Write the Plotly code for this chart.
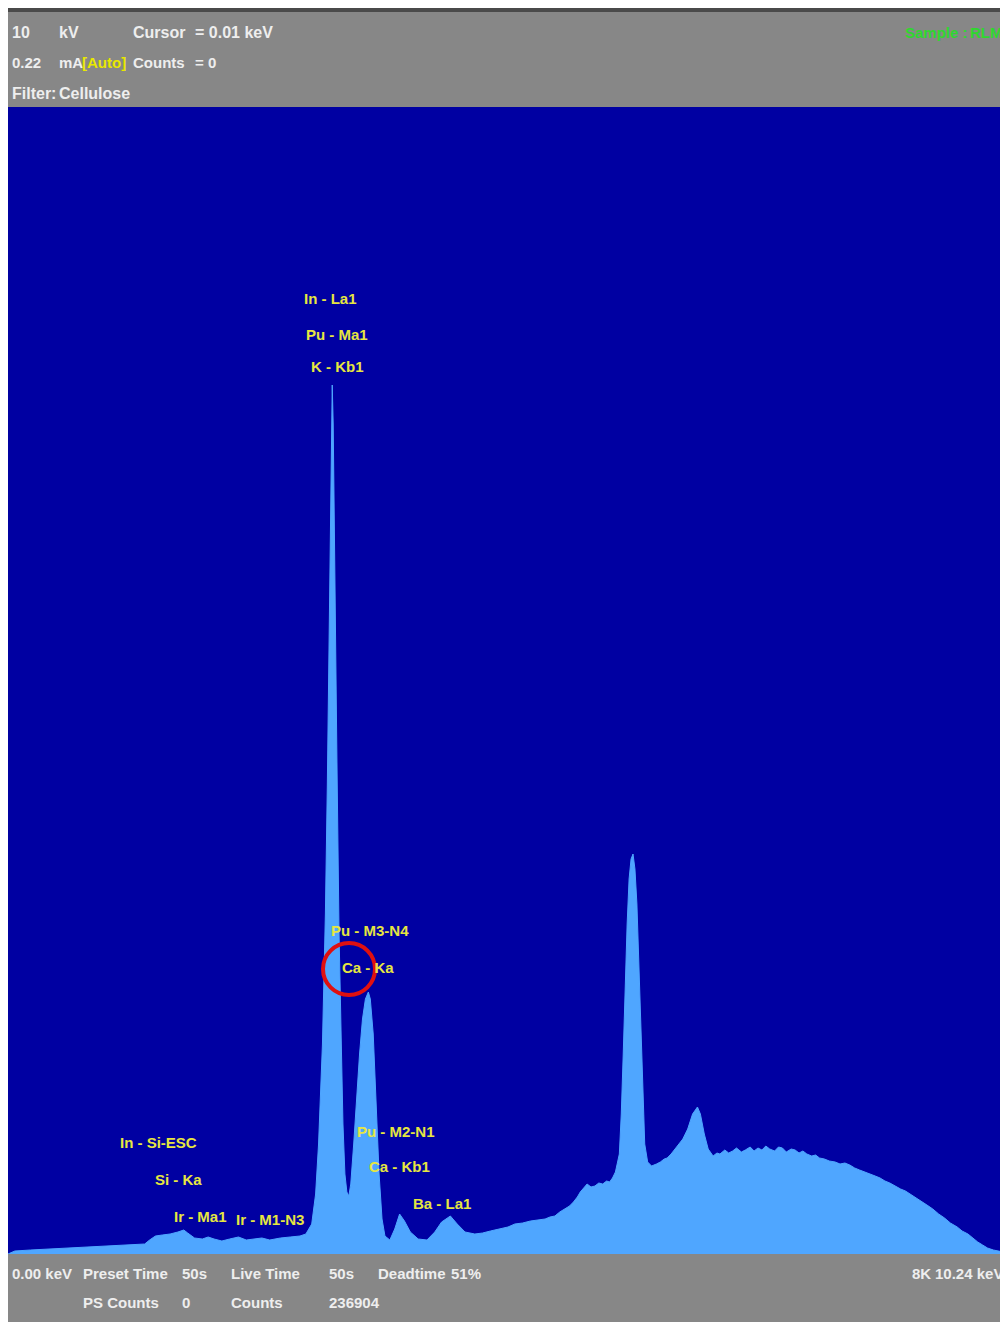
import plotly.graph_objects as go

# ---------------- data ----------------
energy_kev = [
    0.00, 0.07, 0.23, 0.43, 0.63, 0.84, 1.04, 1.25, 1.40, 1.45, 1.51, 1.58, 1.66, 1.74, 1.80,
    1.84, 1.91, 1.99, 2.05, 2.11, 2.19, 2.27, 2.36, 2.44, 2.53, 2.60, 2.68, 2.79, 2.89, 2.99,
    3.05, 3.11, 3.15, 3.18, 3.22, 3.25, 3.27, 3.29, 3.31, 3.32, 3.33, 3.35, 3.37, 3.39, 3.41,
    3.43, 3.45, 3.47, 3.49, 3.51, 3.54, 3.57, 3.60, 3.63, 3.66, 3.69, 3.71, 3.74, 3.77, 3.80,
    3.83, 3.86, 3.91, 3.96, 4.01, 4.06, 4.12, 4.20, 4.29, 4.37, 4.44, 4.53, 4.60, 4.68, 4.78,
    4.86, 4.94, 5.04, 5.12, 5.19, 5.27, 5.35, 5.43, 5.50, 5.55, 5.60, 5.65, 5.70, 5.75, 5.79,
    5.83, 5.86, 5.90, 5.93, 5.97, 6.01, 6.05, 6.09, 6.13, 6.16, 6.19, 6.22, 6.26, 6.28, 6.30,
    6.32, 6.34, 6.36, 6.38, 6.40, 6.42, 6.44, 6.46, 6.48, 6.50, 6.52, 6.55, 6.59, 6.64, 6.68,
    6.72, 6.75, 6.79, 6.83, 6.87, 6.91, 6.96, 7.01, 7.06, 7.09, 7.13, 7.17, 7.22, 7.26, 7.29,
    7.34, 7.38, 7.42, 7.46, 7.51, 7.55, 7.60, 7.64, 7.68, 7.72, 7.76, 7.80, 7.85, 7.89, 7.93,
    7.97, 8.02, 8.06, 8.10, 8.14, 8.18, 8.23, 8.27, 8.31, 8.36, 8.41, 8.47, 8.52, 8.57, 8.62,
    8.67, 8.72, 8.78, 8.83, 8.88, 8.93, 8.98, 9.03, 9.08, 9.14, 9.19, 9.24, 9.30, 9.36, 9.41,
    9.47, 9.53, 9.59, 9.65, 9.72, 9.77, 9.83, 9.88, 9.93, 9.98, 10.03, 10.09, 10.14, 10.19, 10.24,
]
counts = [
    0, 3, 4, 5, 6, 7, 8, 9, 10, 14, 18, 19, 20, 22, 24,
    21, 16, 15, 17, 15, 13, 15, 17, 14, 15, 16, 14, 16, 17, 18,
    20, 30, 60, 110, 210, 340, 470, 620, 800, 869, 830, 680, 480, 320, 210,
    130, 80, 62, 58, 70, 110, 160, 200, 235, 255, 262, 255, 220, 150, 80,
    35, 18, 14, 25, 40, 33, 22, 15, 14, 22, 32, 38, 30, 22, 20,
    21, 23, 25, 27, 30, 31, 33, 34, 35, 37, 38, 42, 45, 48, 52,
    57, 62, 66, 70, 67, 68, 71, 70, 73, 72, 76, 82, 100, 140, 200,
    270, 330, 375, 395, 400, 385, 350, 290, 220, 150, 110, 92, 88, 90, 92,
    95, 96, 100, 105, 110, 115, 125, 140, 147, 140, 120, 105, 98, 101, 100,
    104, 101, 103, 106, 102, 104, 107, 103, 106, 104, 108, 105, 103, 107, 106,
    102, 105, 104, 101, 103, 100, 98, 99, 96, 95, 93, 92, 90, 91, 89,
    86, 84, 82, 80, 78, 76, 73, 71, 68, 65, 63, 60, 56, 52, 49,
    45, 40, 36, 31, 27, 23, 20, 16, 12, 9, 6, 4, 3, 2, 2,
]

peak_labels = [
    "In - La1", "Pu - Ma1", "K - Kb1",
    "Pu - M3-N4", "Ca - Ka",
    "In - Si-ESC", "Si - Ka", "Ir - Ma1", "Ir - M1-N3",
    "Pu - M2-N1", "Ca - Kb1", "Ba - La1",
]
header_row1 = ["10", "kV", "Cursor", "= 0.01 keV"]
header_row2 = ["0.22", "mA", "[Auto]", "Counts", "= 0"]
header_row3 = ["Filter:", "Cellulose"]
footer_row1 = ["0.00 keV", "Preset Time", "50s", "Live Time", "50s", "Deadtime", "51%"]
footer_row2 = ["PS Counts", "0", "Counts", "236904"]
footer_right = ["8K", "10.24 keV"]
sample_text = ["Sample :", "RLM"]

# ---------------- layout helpers ----------------
# The page body keeps its default 8 px margin; positions below are page pixels.
OFF = 8
W, H = 1000, 1314
PLOT_TOP, PLOT_BOTTOM = 107, 1254
FONT = "Liberation Sans, Arial, sans-serif"
BLUE_BG = "#0000a2"
FILL = "#4fa6ff"
GRAY = "#878787"
TXT = "#eeeeee"
YEL = "#e6e640"


def px(x, y):
    return (x - OFF) / W, 1 - (y - OFF) / H


fig = go.Figure()
fig.add_trace(go.Scatter(
    x=energy_kev, y=counts, mode="lines", fill="tozeroy",
    line=dict(color=FILL, width=1), fillcolor=FILL, hoverinfo="skip",
    showlegend=False,
))

shapes = []
shapes.append(dict(type="rect", xref="paper", yref="paper",
                   x0=0, x1=1, y0=px(0, 12)[1], y1=1,
                   fillcolor="#4a4a4a", line=dict(width=0), layer="above"))
shapes.append(dict(type="rect", xref="paper", yref="paper",
                   x0=0, x1=1, y0=px(0, PLOT_TOP)[1], y1=px(0, 12)[1],
                   fillcolor=GRAY, line=dict(width=0), layer="above"))
shapes.append(dict(type="rect", xref="paper", yref="paper",
                   x0=0, x1=1, y0=0, y1=px(0, PLOT_BOTTOM)[1],
                   fillcolor=GRAY, line=dict(width=0), layer="above"))
cx, cy, r = 349, 969, 26
shapes.append(dict(type="circle", xref="paper", yref="paper",
                   x0=px(cx - r, 0)[0], x1=px(cx + r, 0)[0],
                   y0=px(0, cy + r)[1], y1=px(0, cy - r)[1],
                   line=dict(color="#e01010", width=4), layer="above"))

annotations = []


def add_text(text, x, y, color=TXT, size=15, xanchor="left"):
    ax, ay = px(x, y)
    annotations.append(dict(text=text, x=ax, y=ay, xref="paper", yref="paper",
                            xanchor=xanchor, yanchor="middle", showarrow=False,
                            font=dict(family=FONT, size=size, color=color, weight="bold")))


# header
for t, x in zip(header_row1, [10, 57, 131, 193]):
    add_text(t, x, 32, size=16)
for t, x, c in zip(header_row2, [10, 57, 80, 131, 193],
                   [TXT, TXT, "#e8e800", TXT, TXT]):
    add_text(t, x, 63, color=c, size=15)
for t, x in zip(header_row3, [10, 57]):
    add_text(t, x, 93, size=16)
add_text(sample_text[0], 903, 32, color="#2ed82e")
add_text(sample_text[1], 1005, 32, color="#2ed82e", xanchor="right")

# footer
for t, x in zip(footer_row1, [10, 81, 180, 229, 327, 376, 449]):
    add_text(t, x, 1273)
for t, x in zip(footer_row2, [81, 180, 229, 327]):
    add_text(t, x, 1302)
add_text(footer_right[0], 910, 1273)
add_text(footer_right[1], 1005, 1273, xanchor="right")

# peak labels (centre x, centre y in page pixels)
label_pos = [(330, 298), (337, 335), (337, 367), (370, 930), (368, 967),
             (158, 1142), (178, 1179), (200, 1216), (270, 1219),
             (396, 1131), (399, 1166), (442, 1203)]
for t, (x, y) in zip(peak_labels, label_pos):
    add_text(t, x, y, color=YEL, size=15, xanchor="center")

fig.update_layout(
    width=W, height=H,
    margin=dict(l=0, r=0, t=0, b=0),
    paper_bgcolor="white",
    plot_bgcolor=BLUE_BG,
    xaxis=dict(domain=[0, 1], range=[0, 10.24], showgrid=False,
               zeroline=False, showticklabels=False, ticks="", fixedrange=True),
    yaxis=dict(domain=[px(0, PLOT_BOTTOM)[1], px(0, PLOT_TOP)[1]],
               range=[0, 1147], showgrid=False,
               zeroline=False, showticklabels=False, ticks="", fixedrange=True),
    shapes=shapes,
    annotations=annotations,
    showlegend=False,
)

fig.write_html("out.html")
